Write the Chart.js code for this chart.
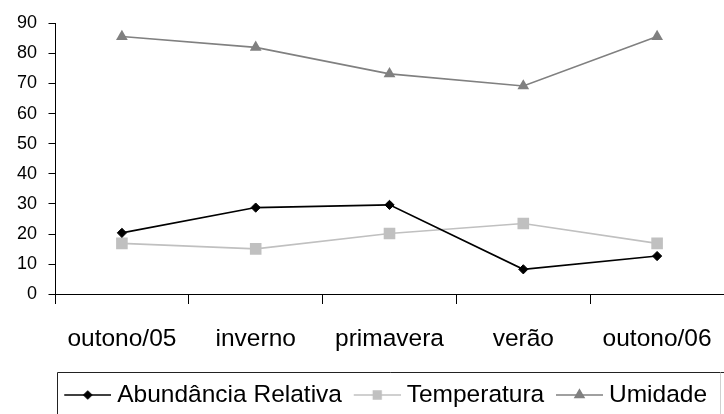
<!DOCTYPE html>
<html lang="pt">
<head>
    <meta charset="UTF-8">
    <title>Abundância Relativa, Temperatura e Umidade</title>
    <style>
        body {
            margin: 0;
            padding: 0;
            background: #FFFFFF;
        }

        #wrap {
            width: 724px;
            height: 414px;
        }
    </style>
</head>
<body>
    <div id="wrap">
        <canvas id="chart" width="724" height="414"></canvas>
    </div>

    <script src="https://cdn.jsdelivr.net/npm/chart.js"></script>
    <script>
        // Data
        const categories = ['outono/05', 'inverno', 'primavera', 'verão', 'outono/06'];
        const abundancia = [20.4, 28.8, 29.7, 8.3, 12.7];
        const temperatura = [16.9, 15.1, 20.2, 23.5, 16.9];
        const umidade = [85.6, 82.0, 73.2, 69.2, 85.6];
        const yTicks = [0, 10, 20, 30, 40, 50, 60, 70, 80, 90];

        const FONT = "'Liberation Sans', Arial, sans-serif";

        // Legend icon: short line with the marker in the middle.
        // The canvas has some empty room on the left so the gaps match the original.
        function legendIcon(color, style, radius) {
            const c = document.createElement('canvas');
            c.width = 63;
            c.height = 16;
            const g = c.getContext('2d');
            g.strokeStyle = color;
            g.fillStyle = color;
            g.lineWidth = 1.5;
            g.beginPath();
            g.moveTo(16, 8);
            g.lineTo(63, 8);
            g.stroke();
            Chart.helpers.drawPoint(g, { pointStyle: style, radius: radius, rotation: 0, borderWidth: 1 }, 39.5, 8);
            return c;
        }

        const icons = [
            legendIcon('#000000', 'rectRot', 3.8),
            legendIcon('#C0C0C0', 'rect', 5.5),
            legendIcon('#808080', 'triangle', 5.2)
        ];

        // Legend sits a bit right of centre in the original, and has a frame
        const legendFrame = {
            id: 'legendFrame',
            afterLayout(chart) {
                if (chart.legend) chart.legend.left = 35.5;
            },
            afterDraw(chart) {
                const lg = chart.legend;
                if (!lg || !lg.legendHitBoxes.length) return;
                const ctx = chart.ctx;
                const first = lg.legendHitBoxes[0];
                const left = Math.round(first.left + 3) + 0.5;
                const top = 372.5;
                ctx.save();
                ctx.lineWidth = 1;
                ctx.strokeStyle = '#222222';
                ctx.beginPath();
                ctx.moveTo(left, 420);
                ctx.lineTo(left, top);
                ctx.lineTo(724, top);
                ctx.stroke();
                ctx.strokeStyle = '#D0D0D0';
                ctx.beginPath();
                ctx.moveTo(720.5, top);
                ctx.lineTo(720.5, 420);
                ctx.stroke();
                ctx.restore();
            }
        };

        const ctx = document.getElementById('chart').getContext('2d');

        new Chart(ctx, {
            type: 'line',
            data: {
                labels: categories,
                datasets: [
                    {
                        label: 'Abundância Relativa',
                        data: abundancia,
                        borderColor: '#000000',
                        backgroundColor: '#000000',
                        borderWidth: 1.6,
                        pointStyle: 'rectRot',
                        pointRadius: 4.6,
                        pointBorderWidth: 1,
                        tension: 0,
                        order: 1
                    },
                    {
                        label: 'Temperatura',
                        data: temperatura,
                        borderColor: '#C0C0C0',
                        backgroundColor: '#C0C0C0',
                        borderWidth: 1.6,
                        pointStyle: 'rect',
                        pointRadius: 8.2,
                        pointBorderWidth: 0,
                        tension: 0,
                        order: 2
                    },
                    {
                        label: 'Umidade',
                        data: umidade,
                        borderColor: '#808080',
                        backgroundColor: '#808080',
                        borderWidth: 1.6,
                        pointStyle: 'triangle',
                        pointRadius: 6.8,
                        pointBorderWidth: 0,
                        tension: 0,
                        order: 3
                    }
                ]
            },
            options: {
                responsive: false,
                animation: false,
                devicePixelRatio: 1,
                layout: {
                    autoPadding: false,
                    padding: { top: 23.3, left: 14, right: -2, bottom: -3.25 }
                },
                plugins: {
                    tooltip: { enabled: false },
                    legend: {
                        position: 'bottom',
                        labels: {
                            usePointStyle: true,
                            pointStyleWidth: 50.5,
                            padding: 2,
                            color: '#000000',
                            font: { family: FONT, size: 24.5 },
                            generateLabels(chart) {
                                const items = Chart.defaults.plugins.legend.labels.generateLabels(chart);
                                items.forEach((it, i) => { it.pointStyle = icons[i]; });
                                return items;
                            }
                        }
                    }
                },
                scales: {
                    x: {
                        offset: true,
                        grid: {
                            offset: true,
                            drawOnChartArea: false,
                            // long tick space for the labels, only 9px of it is drawn
                            tickLength: 30,
                            tickBorderDash: [9, 60],
                            color: '#000000'
                        },
                        border: { color: '#000000', width: 1 },
                        ticks: {
                            color: '#000000',
                            padding: 0.5,
                            maxRotation: 0,
                            font: { family: FONT, size: 24.5 }
                        },
                        afterFit(scale) { scale.height = 86.45; }
                    },
                    y: {
                        min: 0,
                        max: 90,
                        afterBuildTicks(scale) {
                            scale.ticks = yTicks.map(v => ({ value: v }));
                        },
                        grid: {
                            drawOnChartArea: false,
                            tickLength: 6.5,
                            color: '#000000'
                        },
                        border: { color: '#000000', width: 1 },
                        ticks: {
                            color: '#000000',
                            padding: 11.5,
                            font: { family: FONT, size: 18 }
                        },
                        afterFit(scale) { scale.width = 41; }
                    }
                }
            },
            plugins: [legendFrame]
        });
    </script>
</body>
</html>
